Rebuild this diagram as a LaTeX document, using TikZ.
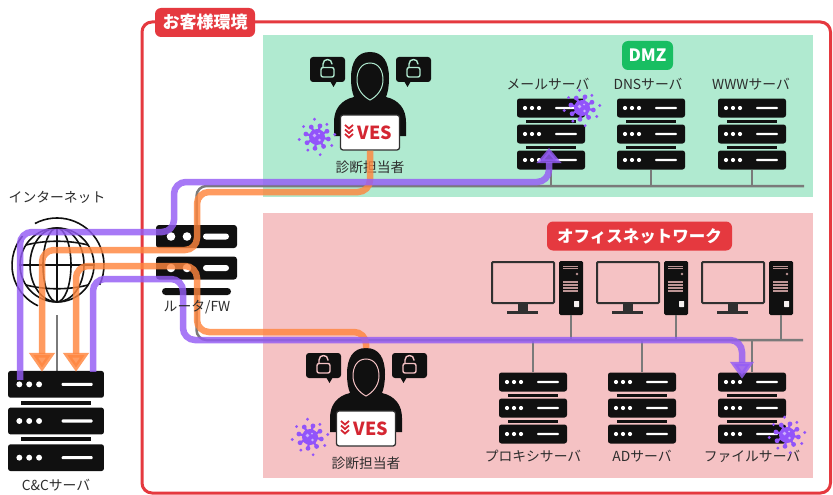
\documentclass[tikz,border=0pt]{standalone}
\usepackage{fontspec}
\newfontfamily\jp{Noto Sans CJK JP}
\usetikzlibrary{arrows.meta}

\definecolor{kred}{RGB}{229,57,63}
\definecolor{dmzbg}{RGB}{176,234,208}
\definecolor{offbg}{RGB}{245,194,196}
\definecolor{dmzgreen}{RGB}{24,190,98}
\definecolor{atk}{RGB}{148,92,245}
\definecolor{germ}{RGB}{146,84,250}
\definecolor{exf}{RGB}{255,134,62}
\definecolor{wiregray}{RGB}{122,122,122}
\definecolor{ink}{RGB}{16,16,16}
\definecolor{mon}{RGB}{48,48,48}
\definecolor{vesred}{RGB}{212,38,50}
\definecolor{txt}{RGB}{45,45,45}
\definecolor{slot}{RGB}{190,150,150}

\tikzset{
  lbl/.style={font=\jp\fontsize{13.8}{15}\selectfont, text=txt, inner sep=0pt},
  zonetag/.style={fill=#1, rounded corners=6pt, text=white, inner sep=0pt,
    minimum height=29pt, font=\jp\bfseries\fontsize{17}{19}\selectfont},
  host/.style={minimum width=68pt, minimum height=72pt, inner sep=0pt},
  wire/.style={draw=wiregray, line width=2.5pt},
  flow/.style={draw=#1, line width=6.5pt, rounded corners=12pt, opacity=.82},
  laptop/.style={draw=mon, fill=white, line width=1.3pt, rounded corners=2.5pt,
    minimum width=59pt, minimum height=35pt, inner sep=0pt},
  % three stacked server units
  pics/rack/.style={code={
    \foreach \yy in {-26,0,26}{
      \fill[ink, rounded corners=2.5pt] (-34,\yy-9.5) rectangle (34,\yy+9.5);
      \foreach \dx in {-26,-19,-12} \fill[white] (\dx,\yy) circle[radius=2.1pt];
      \fill[white, rounded corners=1pt] (4,\yy-1.1) rectangle (26,\yy+1.1);
    }
    \fill[ink] (-25,-14.5) rectangle (25,-11.5);
    \fill[ink] (-25,11.5) rectangle (25,14.5);
  }},
  pics/router/.style={code={
    \foreach \yy in {-23.5,8}{
      \fill[ink, rounded corners=3pt] (-40.5,\yy-11.5) rectangle (40.5,\yy+11.5);
      \fill[white] (-25.5,\yy) circle[radius=4.3pt] (-9.5,\yy) circle[radius=4.3pt];
      \fill[white, rounded corners=3pt] (6.5,\yy-3) rectangle (32.5,\yy+3);
    }
    \fill[ink, rounded corners=3.5pt] (-34.5,28) rectangle (34.5,35);
  }},
  % monitor + tower, origin at the monitor's top left
  pics/pc/.style={code={
    \draw[mon, line width=2pt, rounded corners=1pt] (1,1) rectangle (63,42);
    \fill[mon] (27,42) rectangle (37,50);
    \fill[mon] (16,50) rectangle (47,53);
    \fill[ink, rounded corners=1.5pt] (68,0) rectangle (92,54);
    \draw[slot, line width=.9pt] (72,5) -- (87,5) (72,7.5) -- (87,7.5);
    \fill[slot] (86,13) circle[radius=1.3pt];
    \foreach \yy in {21,24,27,30} \draw[slot, line width=1.5pt] (72,\yy) -- (87,\yy);
    \fill[white!85!slot, rounded corners=.5pt] (83,40) rectangle (88,46);
    \coordinate (-drop) at (80,54);
  }},
  % hooded tester with the VES laptop, origin at the top of the hood
  pics/hacker/.style={code={
    \foreach \bx/\tx in {-42.5/6,43.5/-6}{
      \fill[ink, rounded corners=3pt] (\bx-17.5,5) rectangle (\bx+17.5,30);
      \fill[ink] (\bx+\tx-3.5,29) -- (\bx+\tx+3.5,29) -- (\bx+\tx,35) -- cycle;
      \draw[#1, line width=1.4pt, rounded corners=2pt] (\bx-6.5,15.5) rectangle (\bx+6.5,25);
      \draw[#1, line width=1.4pt] (\bx-4.5,15.5) -- (\bx-4.5,12)
        .. controls (\bx-4.5,6) and (\bx+4.5,6) .. (\bx+4.5,12) -- (\bx+4.5,12.5);
    }
    \fill[ink] (0,0) .. controls (-13,0) and (-19,10) .. (-19,26)
      .. controls (-19,34) and (-18,40) .. (-16,45)
      .. controls (-29,48) and (-36,57) .. (-36,70) -- (-36,84) -- (36,84) -- (36,70)
      .. controls (36,57) and (29,48) .. (16,45)
      .. controls (18,40) and (19,34) .. (19,26)
      .. controls (19,10) and (13,0) .. (0,0) -- cycle;
    \draw[#1, line width=1pt] (0,11) .. controls (-9,11) and (-13,19) .. (-13,28)
      .. controls (-13,38) and (-6,45) .. (0,48) .. controls (6,45) and (13,38) .. (13,28)
      .. controls (13,19) and (9,11) .. (0,11) -- cycle;
    \coordinate (-top) at (0,0);
    \node[laptop] (-pc) at (0,80.5) {};
    \foreach \cy in {73,77.5,82}
      \draw[vesred, line width=1.8pt] (-25,\cy) -- (-21,\cy+3.5) -- (-17,\cy);
    \node[font=\jp\bfseries\fontsize{18}{18}\selectfont, text=vesred, inner sep=0pt]
      (-logo) at (5,80.5) {VES};
    \node[lbl] (-role) at (0,115) {診断担当者};
  }},
  pics/virus/.style={code={
    \fill[germ] (0,0) circle[radius=8pt];
    \foreach \a in {10,55,100,150,195,240,285,330}{
      \draw[germ, line width=2.2pt] (0,0) -- (\a:11);
      \fill[germ] (\a:11.5) circle[radius=2.4pt];
    }
    \foreach \a/\rr in {30/17,80/18,125/16,172/18,218/17,262/18,308/16,352/18}
      \fill[germ] (\a:\rr) circle[radius=1.6pt];
    \fill[white, opacity=.55] (-2.5,-1.5) circle[radius=1.8pt] (2.5,3) circle[radius=1.3pt]
      (2,-3.5) circle[radius=1pt];
  }}
}

\begin{document}
\begin{tikzpicture}[x=1pt, y=-1pt]
\useasboundingbox (0,0) rectangle (833,495);
\fill[white] (0,0) rectangle (833,495);

% customer site and its two zones
\draw[kred, line width=3pt, rounded corners=10pt] (142,22) rectangle (830.5,493);
\fill[dmzbg] (263,35) rectangle (813,197);
\fill[offbg] (263,213) rectangle (813,478);
\node[zonetag=kred, minimum width=100pt] (site) at (205,22.5) {お客様環境};
\node[zonetag=dmzgreen, minimum width=51pt] (dmztag) at (647.5,55.5) {DMZ};
\node[zonetag=kred, minimum width=185pt, font=\jp\bfseries\fontsize{16.5}{18}\selectfont]
  (offtag) at (639.5,236) {オフィスネットワーク};

% machines
\node[host] (mail) at (551,134) {};
\node[host] (dns) at (651,134) {};
\node[host] (www) at (752,134) {};
\node[host] (proxy) at (533,408) {};
\node[host] (ad) at (642,408) {};
\node[host] (file) at (752,408) {};
\node[host, minimum width=96pt, minimum height=98pt] (cc) at (56,421) {};
\node[minimum width=81pt, minimum height=70pt, inner sep=0pt] (fw) at (196.5,260) {};
\node[minimum size=100pt, inner sep=0pt] (net) at (57,265) {};
\pic (pc1) at (491,261) {pc};
\pic (pc2) at (596,261) {pc};
\pic (pc3) at (701,261) {pc};

% lan
\coordinate (dmzbus) at (804,186);
\coordinate (offbus) at (803,340);
\draw[wire, rounded corners=10pt] (fw.north) |- (dmzbus);
\draw[wire, rounded corners=10pt] (fw.south) |- (offbus);
\foreach \s in {mail,dns,www} \draw[wire] (\s.south) -- (\s.south |- dmzbus);
\foreach \s in {proxy,ad,file} \draw[wire] (\s.north) -- (\s.north |- offbus);
\foreach \p in {pc1,pc2,pc3} \draw[wire] (\p-drop) -- (\p-drop |- offbus);
\draw[wire] (net.south) -- (net.south |- cc.north);

\foreach \s in {mail,dns,www,proxy,ad,file} \pic at (\s) {rack};
\pic[scale=1.41] at (cc) {rack};
\pic at (fw) {router};

% internet
\begin{scope}[shift={(net.center)}, ink, line width=1.6pt]
  \draw (0,0) circle[radius=37pt];
  \draw (0,0) ellipse[x radius=14pt, y radius=37pt];
  \draw (0,0) ellipse[x radius=27pt, y radius=37pt];
  \draw (0,-37) -- (0,37);
  \draw (-37,0) -- (37,0);
  \draw (-31,-20) .. controls (-12,-25) and (12,-25) .. (31,-20);
  \draw (-31,20) .. controls (-12,25) and (12,25) .. (31,20);
  \draw (118:47pt) arc[start angle=118, end angle=-25, radius=47pt];
  \draw (140:45pt) arc[start angle=140, end angle=245, radius=45pt];
\end{scope}

% testers
\pic (hk1) at (370,52) {hacker=dmzbg};
\pic (hk2) at (366,348) {hacker=offbg};

% bends of the routes
\coordinate (e1) at (197,192);
\coordinate (e1b) at (42,250);
\coordinate (e2) at (197,332);
\coordinate (e2b) at (76,266);
\coordinate (a1) at (174,232);
\coordinate (a1b) at (549,182);
\coordinate (a2) at (183,279);
\coordinate (a2b) at (742,340);

% data going out to the C&C server
\draw[flow=exf, -{Triangle[width=25pt,length=19pt]}]
  (hk1-pc.south) |- (e1) |- (e1b) -- ([xshift=-14pt]cc.north);
\draw[flow=exf, -{Triangle[width=25pt,length=19pt]}]
  (hk2-top) |- (e2) |- (e2b) -- ([xshift=20pt]cc.north);
% attacks from the C&C server
\draw[flow=atk, -{Triangle[width=24pt,length=15pt]}]
  ([xshift=-36pt,yshift=-8pt]cc.north) |- (a1) |- (a1b) -- ([xshift=-2pt,yshift=-14pt]mail.center);
\draw[flow=atk, -{Triangle[width=23pt,length=17pt]}]
  ([xshift=37pt]cc.north) |- (a2) |- (a2b) -- ([xshift=-10pt,yshift=-7pt]file.north);

% labels
\node[lbl] (netlbl) at (57,197) {インターネット};
\node[lbl] (cclbl) at (56,485) {C\&Cサーバ};
\node[lbl] (fwlbl) at (197,307) {ルータ/FW};
\node[lbl] (maillbl) at (548,84) {メールサーバ};
\node[lbl] (dnslbl) at (648,84) {DNSサーバ};
\node[lbl] (wwwlbl) at (751,84) {WWWサーバ};
\node[lbl] (proxylbl) at (533,456) {プロキシサーバ};
\node[lbl] (adlbl) at (642,456) {ADサーバ};
\node[lbl] (filelbl) at (752,456) {ファイルサーバ};

% infections
\pic at (317,137) {virus};
\pic at (310,437) {virus};
\pic at (582,108) {virus};
\pic at (787,435) {virus};
\end{tikzpicture}
\end{document}
